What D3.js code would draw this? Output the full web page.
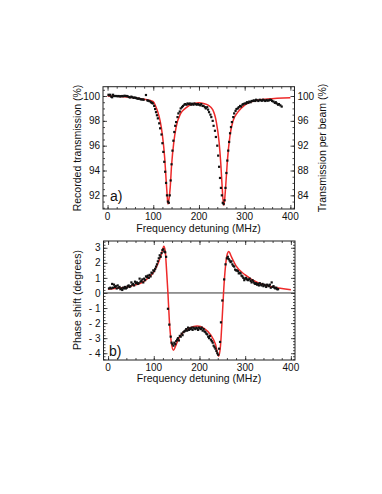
<!DOCTYPE html>
<html>
<head>
<meta charset="utf-8">
<script src="https://cdn.jsdelivr.net/npm/d3@7"></script>
<style>
  body { margin: 0; background: #fff; }
  svg { display: block; font-family: "Liberation Sans", Arial, sans-serif; }
</style>
</head>
<body>
<div id="chart"></div>
<script>
// Panel a) - transmission fit curve
const fitAx = [0, 20, 50, 80, 90, 100, 105, 110, 115, 120, 125, 128, 130, 132, 134, 137, 140, 145, 150, 160, 170, 180, 190, 200, 210, 220, 230, 238, 244, 248, 251, 254, 256, 258, 262, 268, 275, 285, 300, 320, 350, 400];
const fitAy = [100.0, 99.98, 99.9, 99.73, 99.67, 99.54, 99.2, 98.7, 98.0, 96.85, 95.0, 93.3, 92.2, 91.3, 91.6, 92.6, 94.4, 96.3, 97.5, 98.6, 99.0, 99.27, 99.4, 99.46, 99.4, 99.27, 98.9, 97.9, 96.3, 94.4, 92.5, 91.2, 91.6, 92.5, 94.7, 96.85, 98.05, 98.7, 99.27, 99.6, 99.76, 99.87];

// Panel a) - measured points
const ptsAx = [2, 4, 6, 8, 10, 12, 14, 17, 19, 22, 24, 27, 29, 32, 34, 37, 39, 42, 44, 47, 49, 52, 54, 57, 59, 62, 64, 67, 69, 72, 74, 77, 79, 84, 87, 89, 92, 95, 97, 99, 102, 104, 106, 108, 110, 113, 115, 118, 120, 122, 124, 126, 128, 130, 132, 134, 136, 138, 140, 142, 144, 146, 148, 150, 153, 155, 158, 160, 163, 165, 168, 170, 173, 175, 178, 180, 183, 185, 188, 190, 193, 195, 198, 200, 203, 205, 208, 210, 213, 215, 218, 220, 222, 225, 227, 230, 232, 235, 237, 240, 242, 244, 246, 248, 250, 252, 254, 256, 258, 260, 262, 264, 266, 268, 270, 272, 275, 277, 280, 282, 285, 287, 290, 292, 295, 297, 300, 303, 305, 308, 310, 313, 315, 318, 320, 323, 325, 328, 330, 333, 335, 338, 340, 343, 345, 348, 350, 353, 355, 358, 360, 363, 366, 368, 370, 373, 375, 378, 381];
const ptsAy = [100.1, 100.05, 100.1, 99.95, 99.9, 100.1, 100.0, 100.0, 100.0, 99.98, 100.0, 99.97, 99.98, 100.0, 99.98, 100.02, 100.0, 100.0, 99.97, 99.92, 99.88, 99.95, 99.9, 99.85, 99.88, 99.85, 99.8, 99.78, 99.8, 99.75, 99.72, 99.72, 99.7, 100.08, 99.65, 99.62, 99.58, 99.5, 99.45, 99.4, 99.2, 98.95, 98.7, 98.45, 98.2, 97.8, 97.4, 96.9, 96.2, 95.5, 94.7, 93.9, 93.0, 92.0, 91.5, 91.4, 92.0, 93.2, 94.5, 95.6, 96.4, 97.1, 97.6, 97.9, 98.3, 98.6, 98.75, 99.0, 99.1, 99.2, 99.3, 99.35, 99.3, 99.4, 99.35, 99.4, 99.3, 99.38, 99.3, 99.4, 99.35, 99.3, 99.35, 99.3, 99.25, 99.35, 99.2, 99.2, 99.1, 99.0, 99.1, 98.9, 98.7, 98.5, 98.3, 98.0, 97.6, 97.2, 96.7, 96.0, 95.2, 94.3, 93.4, 92.6, 92.0, 91.4, 91.3, 91.6, 92.6, 93.8, 94.8, 95.6, 96.3, 97.0, 97.5, 97.9, 98.3, 98.6, 98.8, 98.95, 99.0, 99.1, 99.2, 99.15, 99.3, 99.35, 99.4, 99.4, 99.5, 99.45, 99.55, 99.5, 99.6, 99.6, 99.65, 99.6, 99.7, 99.65, 99.6, 99.7, 99.65, 99.62, 99.7, 99.65, 99.6, 99.68, 99.62, 99.65, 99.7, 99.68, 99.6, 99.55, 99.45, 99.5, 99.4, 99.3, 99.35, 99.25, 99.15];

// Panel b) - phase fit curve
const fitBx = [0, 25, 50, 80, 100, 110, 117, 122, 125, 128, 131, 134, 138, 143, 148, 155, 165, 180, 195, 210, 225, 235, 242, 246, 250, 253, 257, 261, 264, 270, 280, 300, 330, 360, 400];
const fitBy = [0.25, 0.33, 0.45, 0.8, 1.4, 2.0, 2.6, 3.1, 2.8, 1.5, 0.0, -1.8, -3.2, -3.8, -3.5, -3.0, -2.6, -2.3, -2.2, -2.35, -2.8, -3.4, -4.2, -3.5, -1.5, 0.2, 1.8, 2.6, 2.75, 2.4, 1.8, 1.2, 0.65, 0.4, 0.22];

// Panel b) - measured points
const ptsBx = [2, 5, 7, 9, 11, 13, 15, 17, 19, 21, 23, 25, 27, 29, 31, 33, 35, 37, 39, 41, 43, 45, 47, 49, 51, 53, 55, 57, 59, 61, 63, 65, 67, 69, 71, 73, 75, 77, 79, 81, 83, 85, 87, 89, 91, 93, 95, 97, 99, 101, 103, 105, 107, 109, 111, 113, 115, 117, 119, 121, 123, 125, 127, 131, 134, 137, 139, 141, 143, 145, 147, 149, 151, 153, 155, 157, 159, 161, 163, 165, 167, 169, 171, 173, 175, 177, 179, 181, 183, 185, 187, 189, 191, 193, 195, 197, 199, 201, 203, 205, 207, 209, 211, 213, 215, 217, 219, 221, 223, 225, 227, 229, 231, 233, 235, 237, 239, 241, 243, 245, 247, 250, 254, 257, 260, 262, 264, 266, 268, 270, 272, 274, 276, 278, 280, 282, 284, 286, 288, 290, 292, 294, 296, 298, 300, 302, 304, 306, 308, 310, 312, 314, 316, 318, 320, 322, 324, 326, 328, 330, 332, 334, 336, 338, 340, 342, 344, 346, 348, 350, 352, 354, 356, 358, 360, 362, 364, 366, 368, 370, 372];
const ptsBy = [0.3, 0.35, 0.3, 0.6, 0.35, 0.55, 0.4, 0.45, 0.3, 0.5, 0.35, 0.4, 0.25, 0.3, 0.2, 0.35, 0.3, 0.4, 0.3, 0.35, 0.45, 0.5, 0.4, 0.45, 0.7, 0.55, 0.6, 0.5, 0.75, 0.65, 0.7, 0.6, 0.65, 0.95, 0.75, 0.8, 0.9, 0.7, 0.95, 0.85, 1.1, 1.05, 1.15, 1.0, 1.2, 1.1, 1.35, 1.3, 1.5, 1.45, 1.6, 1.75, 1.9, 2.1, 2.3, 2.5, 2.4, 2.65, 2.85, 2.9, 2.75, 2.7, 2.4, -1.05, -2.1, -2.9, -3.3, -3.4, -3.5, -3.3, -3.4, -3.2, -3.1, -3.0, -3.15, -2.85, -2.9, -2.7, -2.8, -2.6, -2.55, -2.5, -2.4, -2.5, -2.3, -2.45, -2.35, -2.4, -2.3, -2.45, -2.3, -2.35, -2.4, -2.3, -2.35, -2.45, -2.3, -2.35, -2.4, -2.3, -2.5, -2.4, -2.55, -2.6, -2.7, -2.75, -2.9, -3.0, -2.85, -3.1, -3.2, -3.3, -3.5, -3.6, -3.7, -3.85, -4.0, -4.1, -3.7, -3.25, -1.95, -0.5, 0.9, 1.9, 2.3, 2.4, 2.25, 2.15, 2.05, 2.1, 1.9, 1.8, 1.75, 1.55, 1.5, 1.5, 1.45, 1.3, 1.35, 1.3, 1.15, 1.1, 1.0, 0.85, 0.95, 1.0, 0.9, 0.85, 0.9, 0.95, 0.8, 0.7, 0.85, 0.75, 0.65, 0.6, 0.65, 0.55, 0.6, 0.5, 0.65, 0.55, 0.5, 0.6, 0.45, 0.55, 0.5, 0.4, 0.55, 0.5, 0.45, 0.55, 0.35, 0.7, 0.4, 0.45, 0.35, 0.3, 0.35, 0.25, 0.25];

// tick values
const xTicks = [0, 100, 200, 300, 400];
const aLeftTicks = [92, 94, 96, 98, 100];
const aRightTicks = [84, 88, 92, 96, 100];
const bTicks = [-4, -3, -2, -1, 0, 1, 2, 3];

const W = 382, H = 494;
const svg = d3.select("#chart").append("svg").attr("width", W).attr("height", H);

const axisCol = "#222";
const fitCol = "#ee2a2a";

function fmtNeg(d) { return d < 0 ? "- " + Math.abs(d) : String(d); }

// draws a boxed panel with inward ticks on all four sides
function panel(o) {
  const g = svg.append("g");
  const [x0, x1] = o.x.range();
  const [y0, y1] = o.y.range(); // y0 bottom, y1 top

  const tick = (axis, tr) => {
    const a = g.append("g").attr("transform", tr).call(axis);
    a.select(".domain").remove();
    a.selectAll("line").attr("stroke", axisCol).attr("stroke-width", 0.8);
    return a;
  };
  const xMinor = d3.range(0, 401, 20);
  // bottom
  tick(d3.axisTop(o.x).tickValues(xMinor).tickSize(2).tickFormat(""), `translate(0,${y0})`);
  tick(d3.axisTop(o.x).tickValues(xTicks).tickSize(4).tickFormat(""), `translate(0,${y0})`);
  // top
  tick(d3.axisBottom(o.x).tickValues(xMinor).tickSize(2).tickFormat(""), `translate(0,${y1})`);
  tick(d3.axisBottom(o.x).tickValues(xTicks).tickSize(4).tickFormat(""), `translate(0,${y1})`);
  // left
  tick(d3.axisRight(o.y).tickValues(o.yMinor).tickSize(2).tickFormat(""), `translate(${x0},0)`);
  tick(d3.axisRight(o.y).tickValues(o.yTicks).tickSize(4).tickFormat(""), `translate(${x0},0)`);
  // right
  const yr = o.yRight || o.y;
  tick(d3.axisLeft(yr).tickValues(o.yRMinor || o.yMinor).tickSize(2).tickFormat(""), `translate(${x1},0)`);
  tick(d3.axisLeft(yr).tickValues(o.yRTicks || o.yTicks).tickSize(4).tickFormat(""), `translate(${x1},0)`);

  // frame
  g.append("rect")
    .attr("x", x0).attr("y", y1)
    .attr("width", x1 - x0).attr("height", y0 - y1)
    .attr("fill", "none").attr("stroke", axisCol).attr("stroke-width", 1);

  // tick labels
  g.selectAll(".xl").data(xTicks).enter().append("text")
    .attr("x", d => o.x(d)).attr("y", y0 + 10.5)
    .attr("text-anchor", "middle").attr("font-size", 10).attr("fill", "#111")
    .text(d => d);
  g.selectAll(".yl").data(o.yTicks).enter().append("text")
    .attr("x", x0 - 3).attr("y", d => o.y(d) + 3.6)
    .attr("text-anchor", "end").attr("font-size", 10).attr("fill", "#111")
    .text(fmtNeg);
  if (o.yRight) {
    g.selectAll(".yr").data(o.yRTicks).enter().append("text")
      .attr("x", x1 + 3).attr("y", d => o.yRight(d) + 3.6)
      .attr("text-anchor", "start").attr("font-size", 10).attr("fill", "#111")
      .text(d => d);
  }
  return g;
}

function plotData(g, x, y, fx, fy, px, py) {
  const line = d3.line().x(d => x(d[0])).y(d => y(d[1])).curve(d3.curveMonotoneX);
  g.append("path")
    .datum(d3.zip(fx, fy))
    .attr("fill", "none").attr("stroke", fitCol).attr("stroke-width", 1.5)
    .attr("d", line);
  g.selectAll(".pt").data(d3.zip(px, py)).enter().append("rect")
    .attr("x", d => x(d[0]) - 1.1).attr("y", d => y(d[1]) - 1.1)
    .attr("width", 2.2).attr("height", 2.2).attr("fill", "#111");
}

// ---------- panel a ----------
const xa = d3.scaleLinear().domain([-10, 409]).range([103, 294.5]);
const ya = d3.scaleLinear().domain([90.9, 100.75]).range([209, 86.7]);
const yaR = d3.scaleLinear().domain([81.8, 101.5]).range([209, 86.7]);

const ga = panel({
  x: xa, y: ya, yTicks: aLeftTicks, yMinor: d3.range(91, 100.6, 0.5),
  yRight: yaR, yRTicks: aRightTicks, yRMinor: d3.range(82, 101.1, 1)
});
plotData(ga, xa, ya, fitAx, fitAy, ptsAx, ptsAy);

ga.append("text").attr("x", 110).attr("y", 201).attr("font-size", 14).attr("fill", "#111").text("a)");
ga.append("text").attr("x", 198.5).attr("y", 231.5).attr("text-anchor", "middle")
  .attr("font-size", 10.5).attr("fill", "#111").text("Frequency detuning (MHz)");
ga.append("text").attr("transform", "translate(81,148) rotate(-90)").attr("text-anchor", "middle")
  .attr("font-size", 10.5).attr("fill", "#111").text("Recorded transmission (%)");
ga.append("text").attr("transform", "translate(326,148) rotate(-90)").attr("text-anchor", "middle")
  .attr("font-size", 10.5).attr("fill", "#111").text("Transmission per beam (%)");

// ---------- panel b ----------
const xb = d3.scaleLinear().domain([-10, 409]).range([103.5, 295]);
const yb = d3.scaleLinear().domain([-4.45, 3.45]).range([360, 241]);

const gb = panel({
  x: xb, y: yb, yTicks: bTicks, yMinor: d3.range(-4.4, 3.41, 0.2)
});
// zero line
gb.append("line")
  .attr("x1", xb.range()[0]).attr("x2", xb.range()[1])
  .attr("y1", yb(0)).attr("y2", yb(0))
  .attr("stroke", "#333").attr("stroke-width", 1);
plotData(gb, xb, yb, fitBx, fitBy, ptsBx, ptsBy);

gb.append("text").attr("x", 109).attr("y", 356).attr("font-size", 14).attr("fill", "#111").text("b)");
gb.append("text").attr("x", 199).attr("y", 382).attr("text-anchor", "middle")
  .attr("font-size", 10.5).attr("fill", "#111").text("Frequency detuning (MHz)");
gb.append("text").attr("transform", "translate(81,300) rotate(-90)").attr("text-anchor", "middle")
  .attr("font-size", 10.5).attr("fill", "#111").text("Phase shift (degrees)");
</script>
</body>
</html>
